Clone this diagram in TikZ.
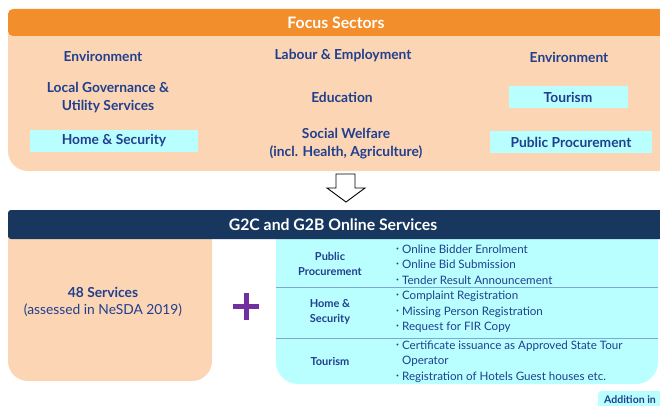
\documentclass[tikz,border=0pt]{standalone}
\usepackage{fontspec}
\setmainfont{Lato}
\definecolor{headorange}{HTML}{F28E2B}
\definecolor{peach}{HTML}{FBD5B4}
\definecolor{cyanfill}{HTML}{B9FFFF}
\definecolor{navy}{HTML}{17375E}
\definecolor{textblue}{HTML}{203F8E}
\definecolor{plusviolet}{HTML}{7030A0}
\definecolor{rowline}{HTML}{7FA6D8}
\tikzset{
  sector/.style={font=\bfseries\fontsize{13.8}{18}\selectfont, text=textblue, align=center, inner sep=0pt},
  hilite/.style={sector, fill=cyanfill, minimum height=22pt},
  headtext/.style={font=\bfseries\fontsize{15.8}{18}\selectfont, text=white},
  catlabel/.style={font=\bfseries\fontsize{11}{15.5}\selectfont, text=textblue, align=center},
  itemlist/.style={font=\fontsize{11.6}{15.5}\selectfont, text=textblue, align=left, anchor=west, inner sep=0pt},
}
\newcommand{\bul}{{\tiny\raisebox{3pt}{\textbullet}}\hspace{3pt}}
\newcommand{\bulgap}{\phantom{\bul}}
\begin{document}
\begin{tikzpicture}[x=1pt,y=-1pt]
  \useasboundingbox (0,0) rectangle (660,406);
  % focus sectors panel
  \fill [peach] (8,30) [rounded corners=20] -- (8,171) -- (680,171) [sharp corners] -- (680,30) -- cycle;
  \fill [headorange, rounded corners=5] (8,9) rectangle (680,36);
  \node [headtext] (fochead) at (336,23) {Focus Sectors};
  \node [sector] (envleft) at (103,56) {Environment};
  \node [sector] (labour) at (343,56) {Labour \& Employment};
  \node [sector] (envright) at (569,57) {Environment};
  \node [sector] (localgov) at (108,98) {Local Governance \&\\Utility Services};
  \node [sector] (education) at (342,97) {Education};
  \node [hilite, minimum width=119pt] (tourism) at (568,97) {Tourism};
  \node [hilite, minimum width=168pt] (homesec) at (114,141) {Home \& Security};
  \node [sector] (welfare) at (346,144) {Social Welfare\\(incl. Health, Agriculture)};
  \node [hilite, minimum width=162pt] (procure) at (571,142) {Public Procurement};
  % hollow arrow
  \draw [black, line width=0.9pt, line join=miter] (336,174) -- (355,174) -- (355,188) -- (365,188) -- (346,202) -- (327,188) -- (336,188) -- cycle;
  % online services panel
  \fill [peach] (8,235) [rounded corners=20] -- (8,381) -- (212,381) [sharp corners] -- (212,235) -- cycle;
  \fill [cyanfill] (276,235) [rounded corners=22] -- (276,384) -- (658,384) [sharp corners] -- (658,235) -- cycle;
  \fill [navy, rounded corners=3] (8,210) rectangle (680,239);
  \node [headtext] (g2chead) at (333,225) {G2C and G2B Online Services};
  \node [sector] (count) at (103,292) {48 Services};
  \node [sector, font=\fontsize{13.8}{16}\selectfont] (assessed) at (103,310) {(assessed in NeSDA 2019)};
  \draw [plusviolet, line width=5pt] (233,306.5) -- (259,306.5) (246,293) -- (246,320);
  \draw [rowline, line width=1pt] (276,287) -- (658,287);
  \draw [rowline, line width=1pt] (276,338) -- (658,338);
  \node [catlabel] (catproc) at (330,264) {Public\\Procurement};
  \node [catlabel] (cathome) at (330,312) {Home \&\\Security};
  \node [catlabel] (cattour) at (330,361) {Tourism};
  \node [itemlist] (itproc) at (396,264.5) {\bul Online Bidder Enrolment\\\bul Online Bid Submission\\\bul Tender Result Announcement};
  \node [itemlist] (ithome) at (396,312) {\bul Complaint Registration\\\bul Missing Person Registration\\\bul Request for FIR Copy};
  \node [itemlist] (ittour) at (396,361.5) {\bul Certificate issuance as Approved State Tour\\\bulgap Operator\\\bul Registration of Hotels Guest houses etc.};
  % addition tag
  \fill [cyanfill, rounded corners=4] (598,391) rectangle (680,420);
  \node [sector, anchor=west, font=\bfseries\fontsize{10.5}{12}\selectfont] (addition) at (604,400) {Addition in};
\end{tikzpicture}
\end{document}
